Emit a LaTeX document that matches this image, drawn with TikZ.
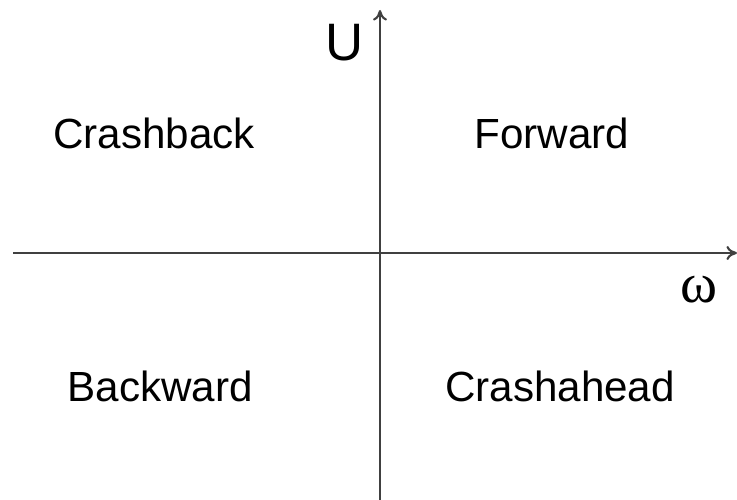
\documentclass[tikz,border=0pt]{standalone}
\usepackage{fontspec}
\setmainfont{Liberation Sans}
\newfontfamily\greekfont{Liberation Serif}
\usepackage{xcolor}
\usepackage{tikz}
\usetikzlibrary{arrows.meta}

\begin{document}
\begin{tikzpicture}[x=0.02cm, y=-0.02cm, every node/.style={font=\fontsize{24}{28}\selectfont}, axis/.style={draw=black!75, line width=1.2pt, -{To[length=6pt, width=8pt]}}]
\useasboundingbox (0,0) rectangle (737,500);
\coordinate (xs) at (13,253);
\coordinate (xe) at (737,253);
\coordinate (ys) at (380,500);
\coordinate (ye) at (380,10);
\draw[axis] (xs) -- (xe);
\draw[axis] (ys) -- (ye);
\node[font=\fontsize{30}{34}\selectfont] (u) at (345,43) {U};
\node[font=\fontsize{32}{36}\selectfont] (omega) at (699,290) {\greekfont ω};
\node (crashback) at (154,133) {Crashback};
\node (forward) at (552,133) {Forward};
\node (backward) at (160,386) {Backward};
\node (crashahead) at (560,386) {Crashahead};
\end{tikzpicture}
\end{document}
